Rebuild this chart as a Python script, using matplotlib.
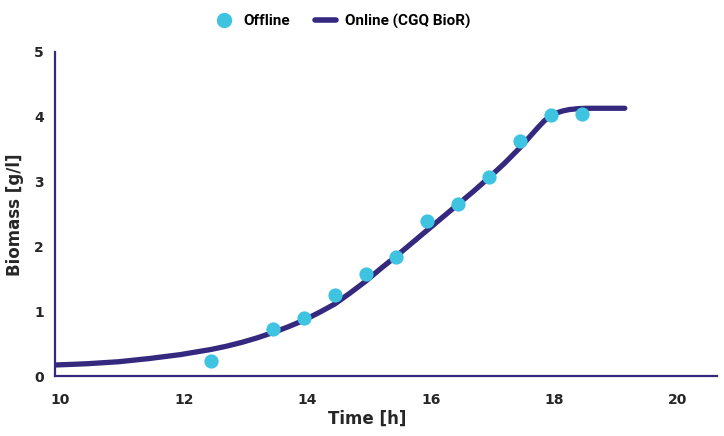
import matplotlib.pyplot as plt
from matplotlib.lines import Line2D
from matplotlib.transforms import ScaledTranslation

# Offline samples
offline_t = [12.5, 13.5, 14.0, 14.5, 15.0, 15.5, 16.0, 16.5, 17.0, 17.5, 18.0, 18.5]
offline_bm = [0.23, 0.72, 0.90, 1.25, 1.57, 1.84, 2.39, 2.65, 3.07, 3.63, 4.03, 4.04]

# Online (CGQ BioR) curve
online_t = [9.97, 10.25, 10.5, 10.75, 11.0, 11.25, 11.5, 11.75, 12.0, 12.25, 12.5, 12.75,
            13.0, 13.25, 13.5, 13.75, 14.0, 14.25, 14.5, 14.75, 15.0, 15.25, 15.5, 15.75,
            16.0, 16.25, 16.5, 16.75, 17.0, 17.25, 17.5, 17.65, 17.8, 17.9, 18.0, 18.1,
            18.2, 18.3, 18.45, 18.6, 18.8, 19.0, 19.2]
online_bm = [0.17, 0.18, 0.19, 0.205, 0.22, 0.245, 0.27, 0.30, 0.33, 0.37, 0.41, 0.46,
             0.52, 0.59, 0.67, 0.76, 0.86, 0.98, 1.11, 1.28, 1.46, 1.66, 1.85, 2.05,
             2.25, 2.45, 2.65, 2.85, 3.06, 3.28, 3.52, 3.68, 3.84, 3.94, 4.01, 4.06,
             4.09, 4.11, 4.125, 4.13, 4.13, 4.13, 4.13]

navy = "#35287f"
cyan = "#3ec3e0"
txt = "#262626"

fig = plt.figure(figsize=(7.24, 4.36), dpi=100)
ax = fig.add_axes([0.076, 0.1376, 0.914, 0.7434])

ax.plot(online_t, online_bm, color=navy, lw=3.8, solid_capstyle="round",
        solid_joinstyle="round", zorder=2)
ax.scatter(offline_t, offline_bm, s=105, color=cyan, zorder=3, linewidths=0)

ax.set_xlim(9.97, 20.69)
ax.set_ylim(0, 5)
ax.set_xticks([10, 12, 14, 16, 18, 20])
ax.set_yticks([0, 1, 2, 3, 4, 5])

for s in ["top", "right"]:
    ax.spines[s].set_visible(False)
for s in ["left", "bottom"]:
    ax.spines[s].set_color(navy)
    ax.spines[s].set_linewidth(1.6)

ax.tick_params(length=0, colors=txt, labelsize=10)
ax.tick_params(axis="x", pad=12)
ax.tick_params(axis="y", pad=8)
shift = ScaledTranslation(3.5 / 100, 0, fig.dpi_scale_trans)
for lab in ax.get_xticklabels():
    lab.set_fontweight("bold")
    lab.set_transform(lab.get_transform() + shift)
for lab in ax.get_yticklabels():
    lab.set_fontweight("bold")

# axis titles placed by hand so they stay inside the canvas
fig.text(0.507, 0.02, "Time [h]", ha="center", va="bottom", fontsize=12,
         fontweight="bold", color=txt)
fig.text(0.008, 0.507, "Biomass [g/l]", ha="left", va="center", rotation=90,
         fontsize=12, fontweight="bold", color=txt)

handles = [
    Line2D([], [], marker="o", ls="none", color=cyan, markersize=10, label="Offline"),
    Line2D([], [], color=navy, lw=4, solid_capstyle="round", label="Online (CGQ BioR)"),
]
fig.legend(handles=handles, loc="upper center", bbox_to_anchor=(0.472, 1.0), ncol=2,
           frameon=False, handlelength=1.4, columnspacing=1.6, handletextpad=0.6,
           prop={"weight": "bold", "size": 11, "family": "Roboto"})

fig.savefig("out.png", dpi=100)
